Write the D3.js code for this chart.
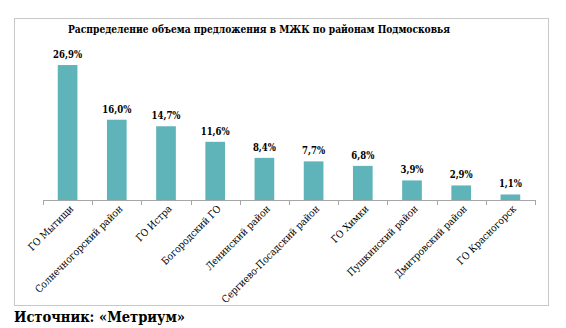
<!DOCTYPE html>
<html><head><meta charset="utf-8">
<script src="https://cdn.jsdelivr.net/npm/d3@7/dist/d3.min.js"></script>
<style>body{margin:0;background:#fff;} svg{display:block;}</style>
</head><body>
<script>
const categories = ["ГО Мытищи","Солнечногорский район","ГО Истра","Богородский ГО","Ленинский район","Сергиево-Посадский район","ГО Химки","Пушкинский район","Дмитровский район","ГО Красногорск"];
const values = [26.9,16.0,14.7,11.6,8.4,7.7,6.8,3.9,2.9,1.1];
const valueLabels = ["26,9%","16,0%","14,7%","11,6%","8,4%","7,7%","6,8%","3,9%","2,9%","1,1%"];
const title = "Распределение объема предложения в МЖК по районам Подмосковья";
const source = "Источник: «Метриум»";

const W=566,H=328;
const FF='"DejaVu Serif",serif';
const svg=d3.select("body").append("svg").attr("width",W).attr("height",H);

// compress text horizontally (DejaVu Serif is wider than the original Times)
function fit(sel,target){
  sel.each(function(){
    const L=this.getComputedTextLength();
    const t=typeof target==="function"?target(L):target;
    if(L>t) d3.select(this).attr("textLength",t).attr("lengthAdjust","spacingAndGlyphs");
  });
}
function factor(sel,idx,target){
  let L=0; sel.filter((d,i)=>i===idx).each(function(){L=this.getComputedTextLength();});
  return Math.min(1,target/L);
}

svg.append("rect").attr("x",14.5).attr("y",18.5).attr("width",534).attr("height",287)
  .attr("fill","#fff").attr("stroke","#c8c8c8").attr("stroke-width",1);

svg.append("text").attr("x",259).attr("y",33).attr("text-anchor","middle")
  .style("font-family",FF).style("font-weight","bold").style("font-size","11px").text(title)
  .call(fit,382);

const x=d3.scaleBand().domain(categories).range([43,535]).paddingInner(0.6).paddingOuter(0.3);
const y=d3.scaleLinear().domain([0,30]).range([200,49.5]);

svg.selectAll("rect.bar").data(values).join("rect").attr("class","bar")
  .attr("x",(d,i)=>x(categories[i])).attr("width",x.bandwidth())
  .attr("y",d=>y(d)).attr("height",d=>y(0)-y(d)).attr("fill","#5fb4ba");

const vals=svg.selectAll("text.val").data(values).join("text").attr("class","val")
  .attr("x",(d,i)=>x(categories[i])+x.bandwidth()/2).attr("y",d=>y(d)-7)
  .attr("text-anchor","middle")
  .style("font-family",FF).style("font-weight","bold").style("font-size","10.5px")
  .text((d,i)=>valueLabels[i]);
const kv=factor(vals,0,29);
vals.call(fit,L=>L*kv);

// axis
const step=x.step();
const g=svg.append("g");
g.append("line").attr("x1",43).attr("x2",535).attr("y1",200.5).attr("y2",200.5).attr("stroke","#a6a6a6");
const tickXs=categories.map(c=>x(c)+x.bandwidth()/2-step/2).concat([535]);
g.selectAll("line.tk").data(tickXs).join("line").attr("class","tk")
  .attr("x1",d=>Math.round(d)+0.5).attr("x2",d=>Math.round(d)+0.5).attr("y1",200).attr("y2",205).attr("stroke","#a6a6a6");

const cats=svg.selectAll("text.cat").data(categories).join("text").attr("class","cat")
  .attr("transform",d=>`translate(${x(d)+x.bandwidth()/2+4},${207}) rotate(-45)`)
  .attr("text-anchor","end").attr("dy","0.35em")
  .style("font-family",FF).style("font-size","10px").attr("fill","#000").text(d=>d);
const k=factor(cats,1,119);
cats.call(fit,L=>L*k);

svg.append("text").attr("x",14).attr("y",322)
  .style("font-family",FF).style("font-weight","bold").style("font-size","14px").text(source)
  .call(fit,171);
</script>
</body></html>
